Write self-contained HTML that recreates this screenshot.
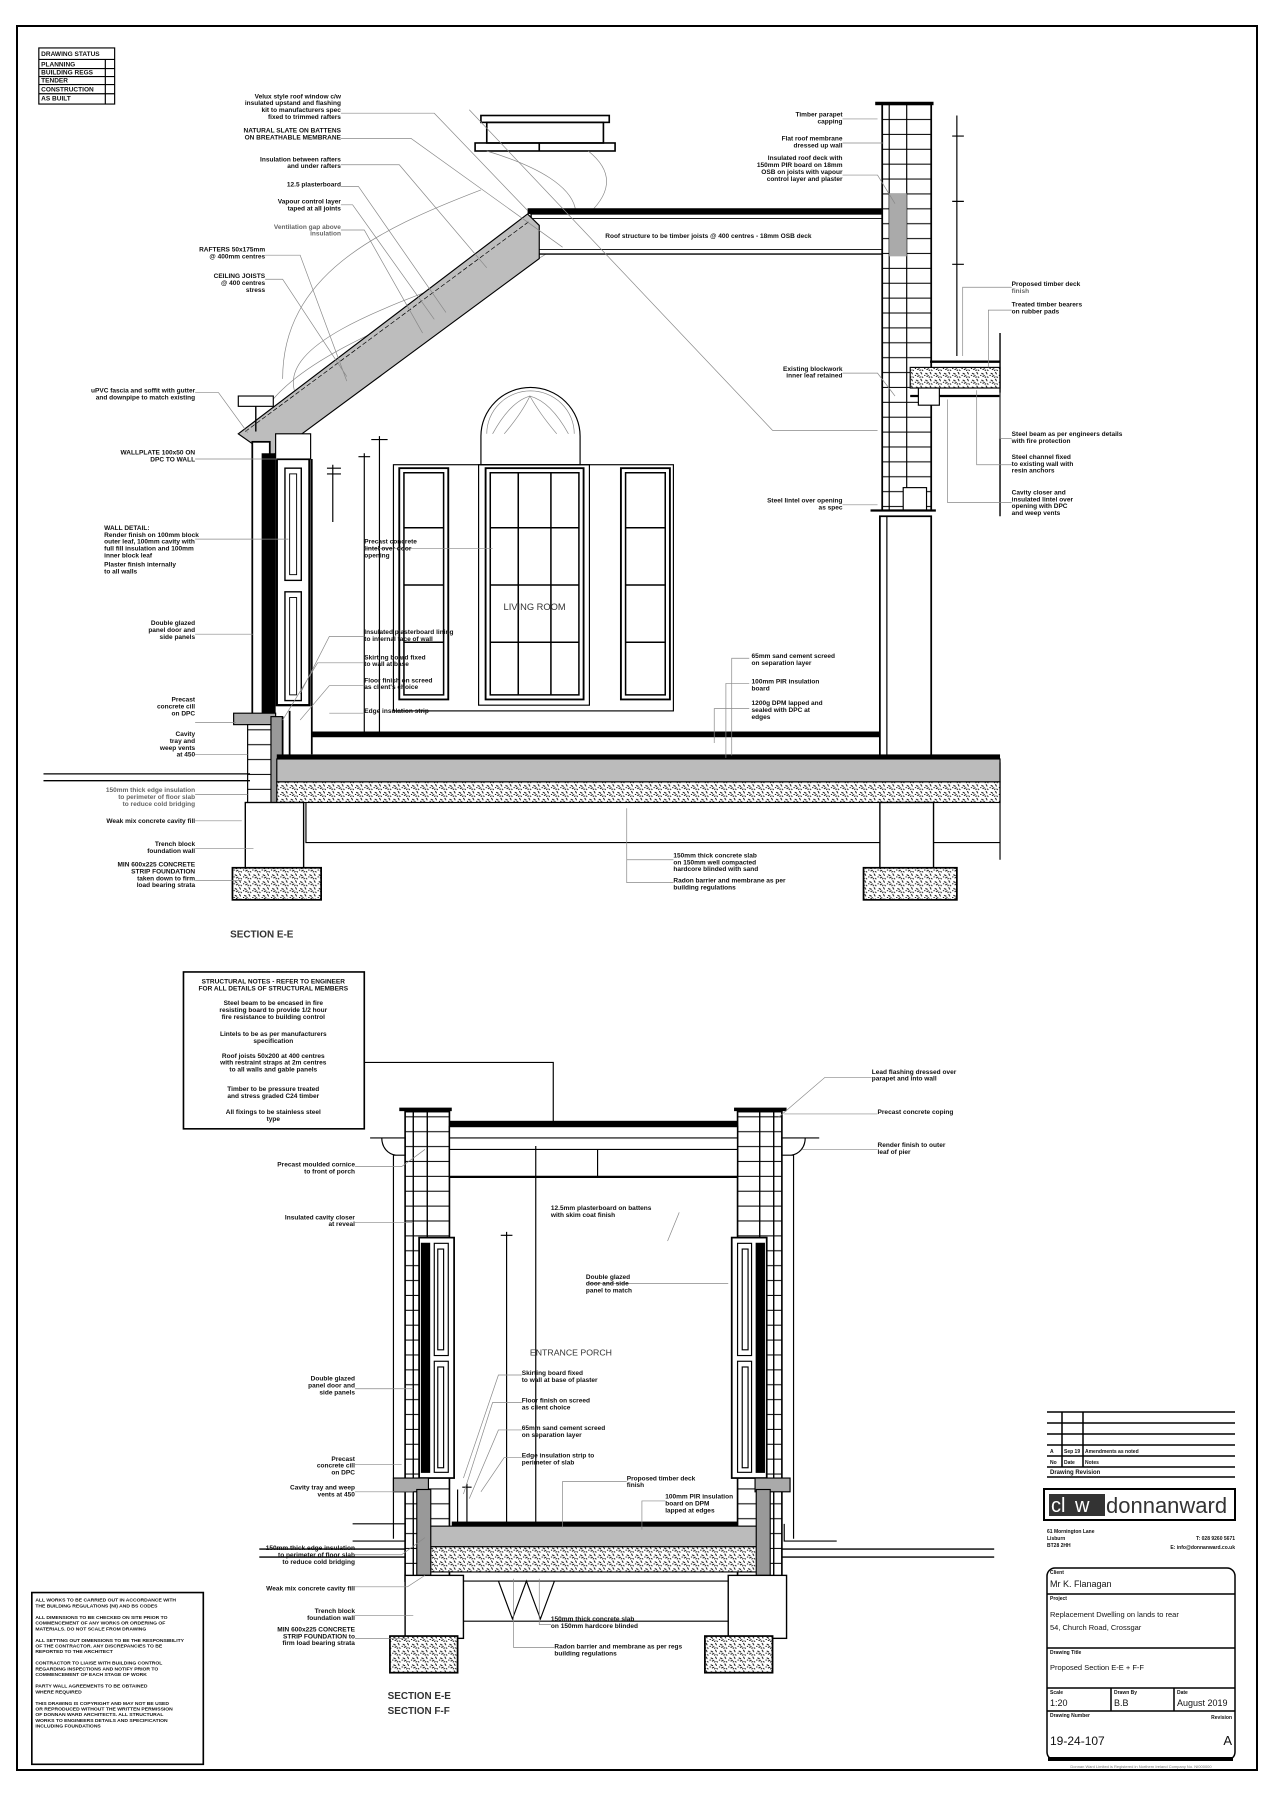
<!DOCTYPE html>
<html><head><meta charset="utf-8"><style>
html,body{margin:0;padding:0;background:#fff;}
svg{display:block}
svg path{fill:none}
text{font-family:"Liberation Sans",sans-serif;fill:#111;}
.t{font-size:5.6px;font-weight:bold;}
.g{font-size:5.6px;fill:#666;}
.l{stroke:#888;stroke-width:0.6;fill:none}
.k{stroke:#000;fill:none}
</style></head><body>
<svg width="1280" height="1815" viewBox="0 0 1280 1815" xmlns="http://www.w3.org/2000/svg">
<defs>
<pattern id="hc" width="8" height="6" patternUnits="userSpaceOnUse">
<rect width="8" height="6" fill="#fff"/>
<path d="M1 1l2 1M5 0l1 2M2 4l2-1M6 4l1 1M0 3l1 0M4 5l1-1" stroke="#000" stroke-width="0.8"/>
</pattern>
<pattern id="br" width="12" height="13" patternUnits="userSpaceOnUse">
<rect width="12" height="13" fill="#fff"/>
<path d="M0 12.5h12" stroke="#000" stroke-width="0.9"/>
</pattern>
</defs>
<rect x="17" y="26" width="1240" height="1744" fill="none" stroke="#000" stroke-width="2"/>
<g transform="matrix(1.1665,0,0,1.145,-9,1)">
<!-- status table -->
<g class="k" stroke-width="1">
<rect x="41" y="41" width="65" height="49"/>
<path d="M41 51h65M41 59h65M41 66h65M41 73h65M41 81h65M98 51v39"/>
</g>
<text class="t" x="43" y="48">DRAWING STATUS</text>
<text class="t" x="43" y="57">PLANNING</text><text class="t" x="43" y="64">BUILDING REGS</text><text class="t" x="43" y="71">TENDER</text><text class="t" x="43" y="79">CONSTRUCTION</text><text class="t" x="43" y="87">AS BUILT</text>

<!-- ===== SECTION E-E ===== -->
<g class="k" stroke-width="1.4">
<rect x="420" y="100" width="110" height="6"/>
<rect x="425" y="106" width="100" height="18"/>
<rect x="415" y="124" width="120" height="7"/>
<path d="M470 124v7"/>
</g>
<path d="M425 131 C520 160,520 200,460 230 C380 270,280 300,240 350" class="l"/>
<path d="M512 131 C560 170,490 210,410 240 C330 270,250 300,260 340" class="l"/>
<path d="M250 330 C250 240,330 200,420 165" class="l"/>
<rect x="460" y="181" width="310" height="5" fill="#000"/>
<rect x="463" y="186" width="305" height="35" fill="#fff" stroke="#000" stroke-width="1.2"/>
<path d="M463 190h305M463 217h305" stroke="#000" stroke-width="0.8"/>
<text class="t" x="615" y="207" text-anchor="middle">Roof structure to be timber joists @ 400 centres - 18mm OSB deck</text>
<polygon points="212,378 460,186 470,196 470,225 240,398" fill="#bdbdbd" stroke="#000" stroke-width="1"/>
<path d="M218 376 L462 192" stroke="#000" stroke-width="0.6" stroke-dasharray="4 2"/>
<rect x="212" y="345" width="30" height="9" fill="#fff" stroke="#000"/>
<path d="M227 354v22" stroke="#000" stroke-width="1.2"/>
<!-- right wall -->
<rect x="764" y="90" width="42" height="355" fill="url(#br)" stroke="#000" stroke-width="1.5"/>
<path d="M785 90v355M770 90v355" stroke="#000" stroke-width="1"/>
<rect x="770" y="168" width="15" height="55" fill="#aaa"/>
<rect x="758" y="88" width="50" height="3" fill="#000"/>
<rect x="762" y="450" width="44" height="210" fill="#fff" stroke="#000" stroke-width="1.5"/>
<path d="M768 450v210" stroke="#000"/>
<rect x="782" y="425" width="20" height="20" fill="#fff" stroke="#000"/>
<path d="M754 445h56" stroke="#000" stroke-width="2"/>
<rect x="788" y="320" width="77" height="18" fill="url(#hc)" stroke="#000"/>
<path d="M805 315h60M788 345h77" stroke="#000" stroke-width="2"/>
<rect x="795" y="338" width="18" height="15" fill="#fff" stroke="#000"/>
<path d="M865 290v160" stroke="#000" stroke-width="1.2"/>
<path d="M828 100v210" stroke="#000" stroke-width="1"/>
<path d="M824 118h10M824 175h10M824 230h10" stroke="#000"/>
<!-- left wall -->
<rect x="224" y="385" width="15" height="240" fill="#fff" stroke="#000" stroke-width="1.5"/>
<rect x="232" y="395" width="12" height="230" fill="#000"/>
<rect x="245" y="400" width="28" height="215" fill="#fff" stroke="#000" stroke-width="2"/>
<rect x="252" y="408" width="14" height="98" fill="#fff" stroke="#000" stroke-width="1.2"/>
<rect x="252" y="516" width="14" height="95" fill="#fff" stroke="#000" stroke-width="1.2"/>
<rect x="256" y="413" width="6" height="88" fill="#fff" stroke="#000" stroke-width="0.8"/>
<rect x="256" y="521" width="6" height="85" fill="#fff" stroke="#000" stroke-width="0.8"/>
<rect x="244" y="378" width="30" height="22" fill="#fff" stroke="#000"/>
<rect x="208" y="622" width="36" height="10" fill="#aaa" stroke="#000"/>
<rect x="220" y="632" width="22" height="70" fill="url(#br)" stroke="#000"/>
<rect x="240" y="625" width="10" height="78" fill="#999" stroke="#000"/>
<path d="M275 400v258M250 625v35M256 620v40" stroke="#000" stroke-width="1.5"/>
<path d="M293 405v50M288 408h12M288 413h12M333 380v260M326 383h14M320 395v245M315 398h10" stroke="#000" stroke-width="1"/>
<!-- windows -->
<rect x="345" y="405" width="240" height="215" fill="none" stroke="#000" stroke-width="1"/>
<rect x="418" y="405" width="95" height="210" fill="none" stroke="#000" stroke-width="1"/>
<path d="M420 380 A42 42 0 0 1 505 380 V405 H420 Z" stroke="#000" stroke-width="1"/>
<path d="M425 378 A37 37 0 0 1 500 378 M430 378 Q445 350 462 345 Q480 350 495 378 M440 378 Q455 360 462 345 Q470 360 485 378" class="l" stroke="#555"/>
<g fill="none" stroke="#000" stroke-width="1.6">
<rect x="424" y="408" width="84" height="202"/>
<rect x="350" y="408" width="42" height="202"/>
<rect x="540" y="408" width="42" height="202"/>
</g>
<g stroke="#000" stroke-width="1.3">
<path d="M428 412v194h76v-194zM452 412v194M480 412v194M428 460h76M428 510h76M428 560h76"/>
<path d="M354 412v194h34v-194zM354 460h34M354 510h34M354 560h34"/>
<path d="M544 412v194h34v-194zM544 460h34M544 510h34M544 560h34"/>
</g>
<text x="466" y="532" text-anchor="middle" style="font-size:8px;fill:#333">LIVING ROOM</text>
<!-- floor -->
<rect x="275" y="638" width="487" height="5" fill="#000"/>
<rect x="245" y="658" width="620" height="4" fill="#000"/>
<rect x="245" y="662" width="620" height="20" fill="#bbb" stroke="#000"/>
<rect x="245" y="682" width="620" height="18" fill="url(#hc)" stroke="#000"/>
<path d="M270 700v35h595M270 735h595" stroke="#000" stroke-width="1"/>
<path d="M865 665v85" stroke="#000"/>
<path d="M45 675h177M45 681h177" stroke="#000" stroke-width="1.2"/>
<rect x="218" y="700" width="50" height="57" fill="#fff" stroke="#000" stroke-width="1.2"/>
<rect x="207" y="757" width="76" height="28" fill="url(#hc)" stroke="#000" stroke-width="1.5"/>
<rect x="762" y="700" width="46" height="57" fill="#fff" stroke="#000" stroke-width="1.2"/>
<rect x="748" y="757" width="80" height="28" fill="url(#hc)" stroke="#000" stroke-width="1.5"/>
<text x="205" y="818" style="font-size:8.5px;font-weight:bold;fill:#333">SECTION E-E</text>

<g class="l">
<path d="M300 98h80l80 85M300 120h60l130 95M300 143h50l75 90M300 162h15l75 110M300 178h10l70 100M300 200h20l50 90M235 222h30l40 110M235 243h15l55 85M175 342h20l25 35M175 400h70M175 470h80M175 553h50M175 630h35M175 658h45M175 693h45M175 716h40M175 740h50M175 768h40"/>
<path d="M410 95l260 280h90M730 103h30M730 124h35M730 152h30l15 25M875 250h-42v60M875 270h-20v50M875 382h-10v-40M875 405h-30v-65M875 438h-55v-90M730 325h30l15 20M730 440h30M320 478h110M320 555h-30l-25 50M320 578h-40l-30 50M320 598h-30l-25 30M320 622h-30M650 574h-15v85M650 596h-20v65M650 618h-30v30M585 750h-40v-45M585 770h-40v-20"/>
</g>
<g class="t">
<text x="300" y="85" text-anchor="end">Velux style roof window c/w</text><text x="300" y="91" text-anchor="end">insulated upstand and flashing</text><text x="300" y="97" text-anchor="end">kit to manufacturers spec</text><text x="300" y="103" text-anchor="end">fixed to trimmed rafters</text>
<text x="300" y="115" text-anchor="end">NATURAL SLATE ON BATTENS</text><text x="300" y="121" text-anchor="end">ON BREATHABLE MEMBRANE</text>
<text x="300" y="140" text-anchor="end">Insulation between rafters</text><text x="300" y="146" text-anchor="end">and under rafters</text>
<text x="300" y="162" text-anchor="end">12.5 plasterboard</text>
<text x="300" y="177" text-anchor="end">Vapour control layer</text><text x="300" y="183" text-anchor="end">taped at all joints</text>
<text class="g" x="300" y="199" text-anchor="end">Ventilation gap above</text><text class="g" x="300" y="205" text-anchor="end">insulation</text>
<text x="235" y="219" text-anchor="end">RAFTERS 50x175mm</text><text x="235" y="225" text-anchor="end">@ 400mm centres</text>
<text x="235" y="242" text-anchor="end">CEILING JOISTS</text><text x="235" y="248" text-anchor="end">@ 400 centres</text><text x="235" y="254" text-anchor="end">stress</text>
<text x="175" y="342" text-anchor="end">uPVC fascia and soffit with gutter</text><text x="175" y="348" text-anchor="end">and downpipe to match existing</text>
<text x="175" y="396" text-anchor="end">WALLPLATE 100x50 ON</text><text x="175" y="402" text-anchor="end">DPC TO WALL</text>
<text x="97" y="462">WALL DETAIL:</text><text x="97" y="468">Render finish on 100mm block</text><text x="97" y="474">outer leaf, 100mm cavity with</text><text x="97" y="480">full fill insulation and 100mm</text><text x="97" y="486">inner block leaf</text><text x="97" y="494">Plaster finish internally</text><text x="97" y="500">to all walls</text>
<text x="175" y="545" text-anchor="end">Double glazed</text><text x="175" y="551" text-anchor="end">panel door and</text><text x="175" y="557" text-anchor="end">side panels</text>
<text x="175" y="612" text-anchor="end">Precast</text><text x="175" y="618" text-anchor="end">concrete cill</text><text x="175" y="624" text-anchor="end">on DPC</text>
<text x="175" y="642" text-anchor="end">Cavity</text><text x="175" y="648" text-anchor="end">tray and</text><text x="175" y="654" text-anchor="end">weep vents</text><text x="175" y="660" text-anchor="end">at 450</text>
<text class="g" x="175" y="691" text-anchor="end">150mm thick edge insulation</text><text class="g" x="175" y="697" text-anchor="end">to perimeter of floor slab</text><text class="g" x="175" y="703" text-anchor="end">to reduce cold bridging</text>
<text x="175" y="718" text-anchor="end">Weak mix concrete cavity fill</text>
<text x="175" y="738" text-anchor="end">Trench block</text><text x="175" y="744" text-anchor="end">foundation wall</text>
<text x="175" y="756" text-anchor="end">MIN 600x225 CONCRETE</text><text x="175" y="762" text-anchor="end">STRIP FOUNDATION</text><text x="175" y="768" text-anchor="end">taken down to firm</text><text x="175" y="774" text-anchor="end">load bearing strata</text>
<text x="730" y="101" text-anchor="end">Timber parapet</text><text x="730" y="107" text-anchor="end">capping</text>
<text x="730" y="122" text-anchor="end">Flat roof membrane</text><text x="730" y="128" text-anchor="end">dressed up wall</text>
<text x="730" y="139" text-anchor="end">Insulated roof deck with</text><text x="730" y="145" text-anchor="end">150mm PIR board on 18mm</text><text x="730" y="151" text-anchor="end">OSB on joists with vapour</text><text x="730" y="157" text-anchor="end">control layer and plaster</text>
<text x="875" y="249">Proposed timber deck</text><text class="g" x="875" y="255">finish</text>
<text x="875" y="267">Treated timber bearers</text><text x="875" y="273">on rubber pads</text>
<text x="730" y="323" text-anchor="end">Existing blockwork</text><text x="730" y="329" text-anchor="end">inner leaf retained</text>
<text x="875" y="380">Steel beam as per engineers details</text><text x="875" y="386">with fire protection</text>
<text x="875" y="400">Steel channel fixed</text><text x="875" y="406">to existing wall with</text><text x="875" y="412">resin anchors</text>
<text x="875" y="431">Cavity closer and</text><text x="875" y="437">insulated lintel over</text><text x="875" y="443">opening with DPC</text><text x="875" y="449">and weep vents</text>
<text x="730" y="438" text-anchor="end">Steel lintel over opening</text><text x="730" y="444" text-anchor="end">as spec</text>
<text x="320" y="474">Precast concrete</text><text x="320" y="480">lintel over door</text><text x="320" y="486">opening</text>
<text x="320" y="553">Insulated plasterboard lining</text><text x="320" y="559">to internal face of wall</text>
<text x="320" y="575">Skirting board fixed</text><text x="320" y="581">to wall at base</text>
<text x="320" y="595">Floor finish on screed</text><text x="320" y="601">as client's choice</text>
<text x="320" y="622">Edge insulation strip</text>
<text x="652" y="574">65mm sand cement screed</text><text x="652" y="580">on separation layer</text>
<text x="652" y="596">100mm PIR insulation</text><text x="652" y="602">board</text>
<text x="652" y="615">1200g DPM lapped and</text><text x="652" y="621">sealed with DPC at</text><text x="652" y="627">edges</text>
<text x="585" y="748">150mm thick concrete slab</text><text x="585" y="754">on 150mm well compacted</text><text x="585" y="760">hardcore blinded with sand</text>
<text x="585" y="770">Radon barrier and membrane as per</text><text x="585" y="776">building regulations</text>
</g>

<!-- ===== SECTION F-F ===== -->
<rect x="165" y="848" width="155" height="137" fill="#fff" stroke="#000" stroke-width="1.4"/>
<g class="t">
<text x="242" y="858" text-anchor="middle">STRUCTURAL NOTES - REFER TO ENGINEER</text><text x="242" y="864" text-anchor="middle">FOR ALL DETAILS OF STRUCTURAL MEMBERS</text>
<text x="242" y="877" text-anchor="middle">Steel beam to be encased in fire</text><text x="242" y="883" text-anchor="middle">resisting board to provide 1/2 hour</text><text x="242" y="889" text-anchor="middle">fire resistance to building control</text>
<text x="242" y="904" text-anchor="middle">Lintels to be as per manufacturers</text><text x="242" y="910" text-anchor="middle">specification</text>
<text x="242" y="923" text-anchor="middle">Roof joists 50x200 at 400 centres</text><text x="242" y="929" text-anchor="middle">with restraint straps at 2m centres</text><text x="242" y="935" text-anchor="middle">to all walls and gable panels</text>
<text x="242" y="952" text-anchor="middle">Timber to be pressure treated</text><text x="242" y="958" text-anchor="middle">and stress graded C24 timber</text>
<text x="242" y="972" text-anchor="middle">All fixings to be stainless steel</text><text x="242" y="978" text-anchor="middle">type</text>
</g>
<path d="M320 927h162v60" stroke="#000" stroke-width="1"/>
<g stroke="#000" stroke-width="1.4">
<rect x="355" y="970" width="38" height="410" fill="url(#br)"/>
<rect x="640" y="970" width="38" height="410" fill="url(#br)"/>
</g>
<path d="M374 970v410M659 970v410M362 970v410M671 970v410" stroke="#000" stroke-width="1.2"/>
<path d="M350 968h45M637 968h45" stroke="#000" stroke-width="3"/>
<rect x="393" y="978" width="247" height="5" fill="#000"/>
<rect x="393" y="983" width="247" height="44" fill="#fff" stroke="#000" stroke-width="1.2"/>
<path d="M393 993h247M393 1003h247" stroke="#000" stroke-width="1"/>
<path d="M393 1027h247" stroke="#000" stroke-width="2"/>
<path d="M520 1003v24" stroke="#000" stroke-width="1"/>
<path d="M325 993h30v15h-10v330M335 993c0 8 5 14 12 15M345 1008v335" class="k" stroke-width="1"/>
<path d="M710 993h-32v15h10v330M698 993c0 8-5 14-12 15M688 1008v335" class="k" stroke-width="1"/>
<g stroke="#000">
<rect x="367" y="1080" width="30" height="210" fill="#fff" stroke-width="1.5"/>
<rect x="369" y="1085" width="7" height="200" fill="#000"/>
<rect x="380" y="1085" width="12" height="98" fill="#fff"/><rect x="380" y="1188" width="12" height="97" fill="#fff"/>
<rect x="383" y="1090" width="5" height="88" fill="#fff"/><rect x="383" y="1193" width="5" height="88" fill="#fff"/>
<rect x="635" y="1080" width="30" height="210" fill="#fff" stroke-width="1.5"/>
<rect x="656" y="1085" width="7" height="200" fill="#000"/>
<rect x="640" y="1085" width="12" height="98" fill="#fff"/><rect x="640" y="1188" width="12" height="97" fill="#fff"/>
<rect x="644" y="1090" width="5" height="88" fill="#fff"/><rect x="644" y="1193" width="5" height="88" fill="#fff"/>
</g>
<rect x="345" y="1290" width="30" height="12" fill="#aaa" stroke="#000"/>
<rect x="655" y="1290" width="30" height="12" fill="#aaa" stroke="#000"/>
<path d="M467 1000v330M442 1075v255M437 1078h10M408 1295v40M404 1298h8M400 1300v35" stroke="#000" stroke-width="1"/>
<text x="462" y="1183" style="font-size:7.5px;fill:#333">ENTRANCE PORCH</text>
<rect x="395" y="1328" width="245" height="4" fill="#000"/>
<rect x="375" y="1332" width="283" height="18" fill="#bbb" stroke="#000"/>
<rect x="375" y="1350" width="283" height="22" fill="url(#hc)" stroke="#000"/>
<rect x="365" y="1300" width="12" height="75" fill="#999" stroke="#000"/>
<rect x="656" y="1300" width="12" height="75" fill="#999" stroke="#000"/>
<path d="M310 1345h45M310 1330h45v15M680 1345h45M680 1330v15h45" stroke="#000" stroke-width="1"/>
<path d="M230 1352h125M230 1359h125M678 1352h182M678 1359h182" stroke="#000" stroke-width="1.2"/>
<rect x="355" y="1375" width="50" height="55" fill="#fff" stroke="#000" stroke-width="1.2"/>
<rect x="632" y="1375" width="50" height="55" fill="#fff" stroke="#000" stroke-width="1.2"/>
<rect x="342" y="1428" width="58" height="32" fill="url(#hc)" stroke="#000" stroke-width="1.5"/>
<rect x="612" y="1428" width="58" height="32" fill="url(#hc)" stroke="#000" stroke-width="1.5"/>
<path d="M405 1380h227M405 1415h227M435 1380l12 33 12-33 12 33 12-33" stroke="#000" stroke-width="1"/>
<text x="340" y="1483" style="font-size:8.5px;font-weight:bold;fill:#333">SECTION E-E</text>
<text x="340" y="1496" style="font-size:8.5px;font-weight:bold;fill:#333">SECTION F-F</text>
<g class="l">
<path d="M755 940h-40l-40 35M760 972h-80M760 1003h-65M312 1018h40l20-15M312 1067h50M590 1058l-10 25M512 1120h120M312 1212h50M455 1200h-20l-30 90M455 1224h-25l-25 80M455 1248h-20l-25 60M455 1272h-15l-20 30M545 1293h-55v40M578 1310h-20v25M312 1278h40M312 1302h50M312 1357h40l20-15M312 1385h45l15-10M312 1410h50M312 1430h45M480 1418h-10v-40M483 1438h-35v-60"/>
</g>
<g class="t">
<text x="755" y="937">Lead flashing dressed over</text><text x="755" y="943">parapet and into wall</text>
<text x="760" y="972">Precast concrete coping</text>
<text x="760" y="1001">Render finish to outer</text><text x="760" y="1007">leaf of pier</text>
<text x="312" y="1018" text-anchor="end">Precast moulded cornice</text><text x="312" y="1024" text-anchor="end">to front of porch</text>
<text x="312" y="1064" text-anchor="end">Insulated cavity closer</text><text x="312" y="1070" text-anchor="end">at reveal</text>
<text x="480" y="1056">12.5mm plasterboard on battens</text><text x="480" y="1062">with skim coat finish</text>
<text x="510" y="1116">Double glazed</text><text x="510" y="1122">door and side</text><text x="510" y="1128">panel to match</text>
<text x="312" y="1205" text-anchor="end">Double glazed</text><text x="312" y="1211" text-anchor="end">panel door and</text><text x="312" y="1217" text-anchor="end">side panels</text>
<text x="455" y="1200">Skirting board fixed</text><text x="455" y="1206">to wall at base of plaster</text>
<text x="455" y="1224">Floor finish on screed</text><text x="455" y="1230">as client choice</text>
<text x="455" y="1248">65mm sand cement screed</text><text x="455" y="1254">on separation layer</text>
<text x="455" y="1272">Edge insulation strip to</text><text x="455" y="1278">perimeter of slab</text>
<text x="545" y="1292">Proposed timber deck</text><text x="545" y="1298">finish</text>
<text x="578" y="1308">100mm PIR insulation</text><text x="578" y="1314">board on DPM</text><text x="578" y="1320">lapped at edges</text>
<text x="312" y="1275" text-anchor="end">Precast</text><text x="312" y="1281" text-anchor="end">concrete cill</text><text x="312" y="1287" text-anchor="end">on DPC</text>
<text x="312" y="1300" text-anchor="end">Cavity tray and weep</text><text x="312" y="1306" text-anchor="end">vents at 450</text>
<text x="312" y="1353" text-anchor="end">150mm thick edge insulation</text><text x="312" y="1359" text-anchor="end">to perimeter of floor slab</text><text x="312" y="1365" text-anchor="end">to reduce cold bridging</text>
<text x="312" y="1388" text-anchor="end">Weak mix concrete cavity fill</text>
<text x="312" y="1408" text-anchor="end">Trench block</text><text x="312" y="1414" text-anchor="end">foundation wall</text>
<text x="312" y="1424" text-anchor="end">MIN 600x225 CONCRETE</text><text x="312" y="1430" text-anchor="end">STRIP FOUNDATION to</text><text x="312" y="1436" text-anchor="end">firm load bearing strata</text>
<text x="480" y="1415">150mm thick concrete slab</text><text x="480" y="1421">on 150mm hardcore blinded</text>
<text x="483" y="1439">Radon barrier and membrane as per regs</text><text x="483" y="1445">building regulations</text>
</g>
<rect x="35" y="1390" width="147" height="150" fill="#fff" stroke="#000" stroke-width="1.4"/>
<g class="t" style="font-size:4.3px">
<text x="38" y="1398">ALL WORKS TO BE CARRIED OUT IN ACCORDANCE WITH</text><text x="38" y="1403">THE BUILDING REGULATIONS (NI) AND BS CODES</text>
<text x="38" y="1413">ALL DIMENSIONS TO BE CHECKED ON SITE PRIOR TO</text><text x="38" y="1418">COMMENCEMENT OF ANY WORKS OR ORDERING OF</text><text x="38" y="1423">MATERIALS. DO NOT SCALE FROM DRAWING</text>
<text x="38" y="1433">ALL SETTING OUT DIMENSIONS TO BE THE RESPONSIBILITY</text><text x="38" y="1438">OF THE CONTRACTOR. ANY DISCREPANCIES TO BE</text><text x="38" y="1443">REPORTED TO THE ARCHITECT</text>
<text x="38" y="1453">CONTRACTOR TO LIAISE WITH BUILDING CONTROL</text><text x="38" y="1458">REGARDING INSPECTIONS AND NOTIFY PRIOR TO</text><text x="38" y="1463">COMMENCEMENT OF EACH STAGE OF WORK</text>
<text x="38" y="1473">PARTY WALL AGREEMENTS TO BE OBTAINED</text><text x="38" y="1478">WHERE REQUIRED</text>
<text x="38" y="1488">THIS DRAWING IS COPYRIGHT AND MAY NOT BE USED</text><text x="38" y="1493">OR REPRODUCED WITHOUT THE WRITTEN PERMISSION</text><text x="38" y="1498">OF DONNAN WARD ARCHITECTS. ALL STRUCTURAL</text><text x="38" y="1503">WORKS TO ENGINEERS DETAILS AND SPECIFICATION</text><text x="38" y="1508">INCLUDING FOUNDATIONS</text>
</g>
</g>
<!-- title block -->
<g stroke="#000" fill="none" stroke-width="1.5">
<path d="M1047 1412h188M1047 1423h188M1047 1434h188M1047 1445h188M1047 1456h188M1047 1467h188M1047 1477h188M1062 1412v55M1083 1412v55"/>
<rect x="1044" y="1489" width="191" height="31" stroke-width="2"/>
<rect x="1047" y="1568" width="188" height="192" rx="8"/>
<path d="M1047 1594h188M1047 1648h188M1047 1688h188M1047 1711h188M1111 1688v23M1174 1688v23"/>
</g>
<rect x="1048" y="1757" width="185" height="4" fill="#000"/>
<rect x="1049" y="1494" width="56" height="22" fill="#333"/>
<text x="1051" y="1512" style="font-size:20px;fill:#fff">cl</text><text x="1075" y="1512" style="font-size:20px;fill:#fff">w</text>
<text x="1106" y="1513" style="font-size:22px;fill:#333">donnanward</text>
<g style="font-size:5px" class="t">
<text x="1050" y="1453">A</text><text x="1064" y="1453">Sep 19</text><text x="1085" y="1453">Amendments as noted</text>
<text x="1050" y="1464">No</text><text x="1064" y="1464">Date</text><text x="1085" y="1464">Notes</text>
<text x="1050" y="1474" style="font-size:6px">Drawing Revision</text>
<text x="1047" y="1533">61 Mornington Lane</text><text x="1047" y="1540">Lisburn</text><text x="1047" y="1547">BT28 2HH</text>
<text x="1235" y="1540" text-anchor="end">T: 028 9260 5671</text><text x="1235" y="1549" text-anchor="end">E: info@donnanward.co.uk</text>
<text x="1050" y="1574">Client</text><text x="1050" y="1600">Project</text><text x="1050" y="1654">Drawing Title</text><text x="1050" y="1694">Scale</text><text x="1114" y="1694">Drawn By</text><text x="1177" y="1694">Date</text><text x="1050" y="1717">Drawing Number</text><text x="1232" y="1719" text-anchor="end">Revision</text>
</g>
<g style="font-size:9px;fill:#222">
<text x="1050" y="1587">Mr K. Flanagan</text>
<text x="1050" y="1617" style="font-size:7.5px">Replacement Dwelling on lands to rear</text>
<text x="1050" y="1630" style="font-size:7.5px">54, Church Road, Crossgar</text>
<text x="1050" y="1670" style="font-size:7.5px">Proposed Section E-E + F-F</text>
<text x="1050" y="1706">1:20</text><text x="1114" y="1706">B.B</text><text x="1177" y="1706">August 2019</text>
<text x="1050" y="1745" style="font-size:12px">19-24-107</text><text x="1232" y="1745" text-anchor="end" style="font-size:13px">A</text>
</g>
<text x="1141" y="1768" text-anchor="middle" style="font-size:4px;fill:#777">Donnan Ward Limited is Registered in Northern Ireland Company No. NI000000</text>
</svg>
</body></html>
